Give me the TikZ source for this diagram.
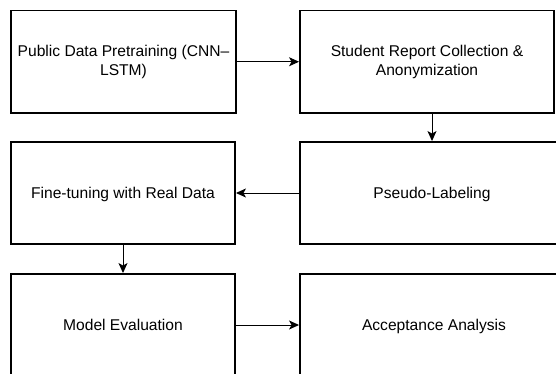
\documentclass[tikz,border=0pt]{standalone}
\usepackage{fontspec}
\setmainfont{Liberation Sans}
\usetikzlibrary{arrows.meta}

\begin{document}
\begin{tikzpicture}[x=1pt,y=-1pt,
		box/.style={draw, line width=1.9pt, align=center, inner sep=0pt,
			font=\fontsize{15.6}{18.5}\selectfont},
		oneline/.style={text height=12pt, text depth=1pt},
		flow/.style={line width=1pt, -{Stealth[length=10pt,width=9pt,inset=2.5pt]}}]
		
		% Marco
		\useasboundingbox (0,0) rectangle (556,374);
		\clip (0,0) rectangle (556,374);
		
		% Cajas
		\node[box, minimum width=225pt, minimum height=102.5pt] (pub) at (123.5,61.75)
			{Public Data Pretraining (CNN–\\LSTM)};
		\node[box, minimum width=254pt, minimum height=102.5pt] (stu) at (427,61.75)
			{Student Report Collection \&\\Anonymization};
		\node[box, oneline, minimum width=224pt, minimum height=102pt] (fine) at (123,193)
			{Fine-tuning with Real Data};
		\node[box, oneline, minimum width=264pt, minimum height=102pt] (pseudo) at (432,193)
			{Pseudo-Labeling};
		\node[box, oneline, minimum width=224pt, minimum height=102pt] (eval) at (123,325)
			{Model Evaluation};
		\node[box, oneline, minimum width=268pt, minimum height=102pt] (acc) at (434,325)
			{Acceptance Analysis};
		
		% Flechas
		\draw[flow] (pub.east) -- (stu.west);
		\draw[flow] (stu.south -| pseudo.north) -- (pseudo.north);
		\draw[flow] (pseudo.west) -- (fine.east);
		\draw[flow] (fine.south) -- (eval.north);
		\draw[flow] (eval.east) -- (acc.west);
		
	\end{tikzpicture}
\end{document}
